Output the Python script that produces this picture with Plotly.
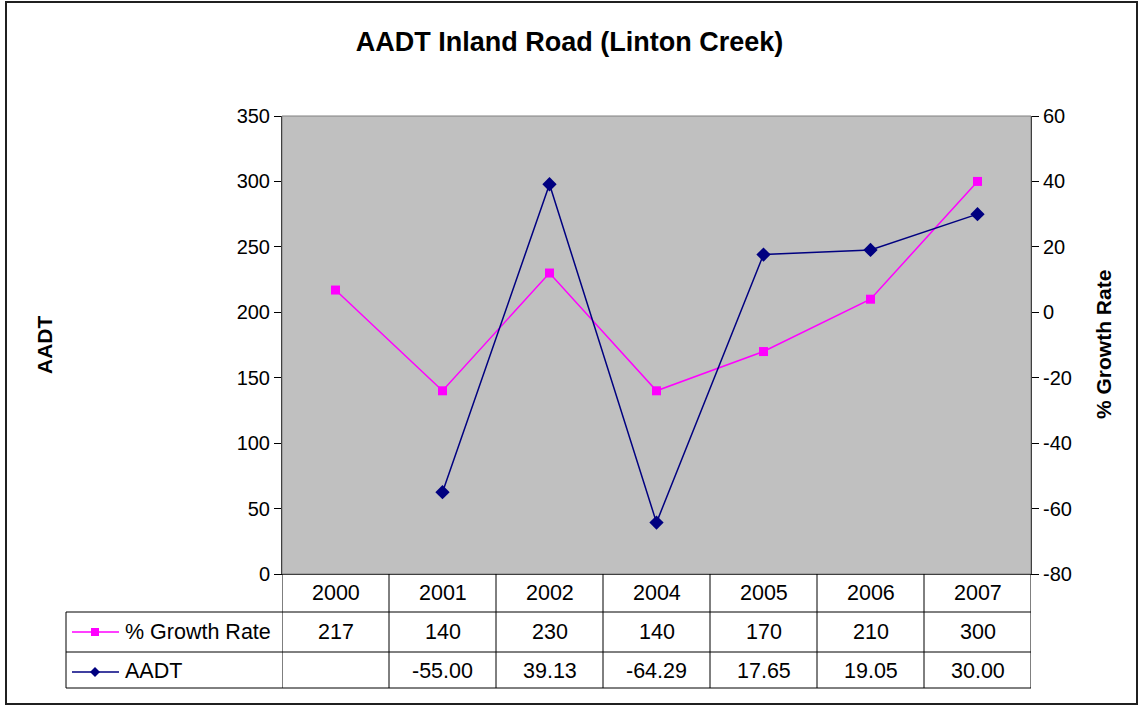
import plotly.graph_objects as go

# ---- data ----
years = ["2000", "2001", "2002", "2004", "2005", "2006", "2007"]
growth_name = "% Growth Rate"
growth_values = [217, 140, 230, 140, 170, 210, 300]
aadt_name = "AADT"
aadt_values = [None, -55.00, 39.13, -64.29, 17.65, 19.05, 30.00]

left_ticks = [0, 50, 100, 150, 200, 250, 300, 350]
right_ticks = [-80, -60, -40, -20, 0, 20, 40, 60]

title_text = "AADT Inland Road (Linton Creek)"
left_title = "AADT"
right_title = "% Growth Rate"

# ---- layout geometry (pixels) ----
W, H = 1139, 706
L, R, T, B = 282, 1031, 116, 574
PW, PH = R - L, B - T


def px(x):
    return (x - L) / PW


def py(y):
    return (B - y) / PH


FONT = "Arial, Liberation Sans, Helvetica, sans-serif"
MAG = "#FF00FF"
NAVY = "#000080"

fig = go.Figure()
fig.add_trace(go.Scatter(
    x=years, y=growth_values, name=growth_name, mode="lines+markers",
    line=dict(color=MAG, width=1.5),
    marker=dict(symbol="square", size=9, color=MAG),
    yaxis="y", cliponaxis=False, showlegend=False))
fig.add_trace(go.Scatter(
    x=years, y=aadt_values, name=aadt_name, mode="lines+markers",
    line=dict(color=NAVY, width=1.5),
    marker=dict(symbol="diamond", size=11, color=NAVY),
    yaxis="y2", cliponaxis=False, showlegend=False, connectgaps=False))

shapes = []
# outer chart border
shapes.append(dict(type="rect", xref="paper", yref="paper",
                   x0=px(6), x1=px(1137), y0=py(704), y1=py(2),
                   line=dict(color="#202020", width=2), layer="below"))
# plot area border (grey)
shapes.append(dict(type="rect", xref="paper", yref="paper",
                   x0=0, x1=1, y0=0, y1=1,
                   line=dict(color="#808080", width=1), layer="above"))

# data table lines
row_lines = [612, 652, 688]
for yl in row_lines:
    shapes.append(dict(type="line", xref="paper", yref="paper",
                       x0=px(66), x1=1, y0=py(yl), y1=py(yl),
                       line=dict(color="#000000", width=1)))
# left edge of legend column
shapes.append(dict(type="line", xref="paper", yref="paper",
                   x0=px(66), x1=px(66), y0=py(612), y1=py(688),
                   line=dict(color="#000000", width=1)))
# column separators (category boundaries)
for i in range(len(years) + 1):
    shapes.append(dict(type="line", xref="x", yref="paper",
                       x0=i - 0.5, x1=i - 0.5, y0=py(574), y1=py(688),
                       line=dict(color="#000000", width=1)))

# legend keys inside table
key_rows = [(632, MAG, "square"), (672, NAVY, "diamond")]
for yk, col, sym in key_rows:
    shapes.append(dict(type="line", xref="paper", yref="paper",
                       x0=px(72), x1=px(119), y0=py(yk), y1=py(yk),
                       line=dict(color=col, width=1.5)))
    if sym == "square":
        shapes.append(dict(type="rect", xref="paper", yref="paper",
                           x0=px(91), x1=px(99), y0=py(yk + 4), y1=py(yk - 4),
                           fillcolor=col, line=dict(color=col, width=0)))
    else:
        cx, cy, s = 95, yk, 5
        path = "M {a},{b} L {c},{d} L {a},{e} L {f},{d} Z".format(
            a=px(cx), b=py(cy - s), c=px(cx + s), d=py(cy), e=py(cy + s), f=px(cx - s))
        shapes.append(dict(type="path", xref="paper", yref="paper", path=path,
                           fillcolor=col, line=dict(color=col, width=0)))

annotations = []
TFS = 21.5
# year header (category index positions)
for i, yr in enumerate(years):
    annotations.append(dict(x=i, xref="x", y=py(593), yref="paper", text=yr,
                            showarrow=False, font=dict(family=FONT, size=TFS, color="black"),
                            xanchor="center", yanchor="middle"))
# row labels
annotations.append(dict(x=px(123), xref="paper", y=py(632), yref="paper", text=growth_name,
                        showarrow=False, font=dict(family=FONT, size=TFS, color="black"),
                        xanchor="left", yanchor="middle"))
annotations.append(dict(x=px(123), xref="paper", y=py(671), yref="paper", text=aadt_name,
                        showarrow=False, font=dict(family=FONT, size=TFS, color="black"),
                        xanchor="left", yanchor="middle"))
for i, v in enumerate(growth_values):
    annotations.append(dict(x=i, xref="x", y=py(632), yref="paper", text=str(v),
                            showarrow=False, font=dict(family=FONT, size=TFS, color="black"),
                            xanchor="center", yanchor="middle"))
for i, v in enumerate(aadt_values):
    if v is None:
        continue
    annotations.append(dict(x=i, xref="x", y=py(671), yref="paper", text=f"{v:.2f}",
                            showarrow=False, font=dict(family=FONT, size=TFS, color="black"),
                            xanchor="center", yanchor="middle"))
# axis titles
annotations.append(dict(x=px(44), xref="paper", y=py(345), yref="paper", text=f"<b>{left_title}</b>",
                        textangle=-90, showarrow=False,
                        font=dict(family=FONT, size=21, color="black"),
                        xanchor="center", yanchor="middle"))
annotations.append(dict(x=px(1103), xref="paper", y=py(345), yref="paper", text=f"<b>{right_title}</b>",
                        textangle=-90, showarrow=False,
                        font=dict(family=FONT, size=21, color="black"),
                        xanchor="center", yanchor="middle"))

fig.update_layout(
    width=W, height=H,
    margin=dict(l=L, r=W - R, t=T, b=H - B, pad=0),
    paper_bgcolor="white", plot_bgcolor="#C0C0C0",
    title=dict(text=f"<b>{title_text}</b>", x=0.5, xref="container", xanchor="center",
               y=1 - 42 / H, yref="container", yanchor="middle",
               font=dict(family=FONT, size=27, color="black")),
    xaxis=dict(type="category", categoryorder="array", categoryarray=years,
               range=[-0.5, len(years) - 0.5], showticklabels=False, ticks="",
               showgrid=False, zeroline=False, showline=True, linecolor="black", linewidth=1),
    yaxis=dict(range=[0, 350], tickmode="array", tickvals=left_ticks,
               ticktext=[str(v) for v in left_ticks], ticks="outside", ticklen=7,
               tickcolor="black", showgrid=False, zeroline=False, showline=True,
               linecolor="black", linewidth=1,
               tickfont=dict(family=FONT, size=20, color="black")),
    yaxis2=dict(range=[-80, 60], tickmode="array", tickvals=right_ticks,
                ticktext=[str(v) for v in right_ticks], overlaying="y", side="right",
                ticks="outside", ticklen=7, tickcolor="black", showgrid=False,
                zeroline=False, showline=True, linecolor="black", linewidth=1,
                tickfont=dict(family=FONT, size=20, color="black")),
    shapes=shapes, annotations=annotations, showlegend=False,
)

fig.write_html("out.html", config={"displayModeBar": False},
               post_script="document.body.style.margin='0px';")
